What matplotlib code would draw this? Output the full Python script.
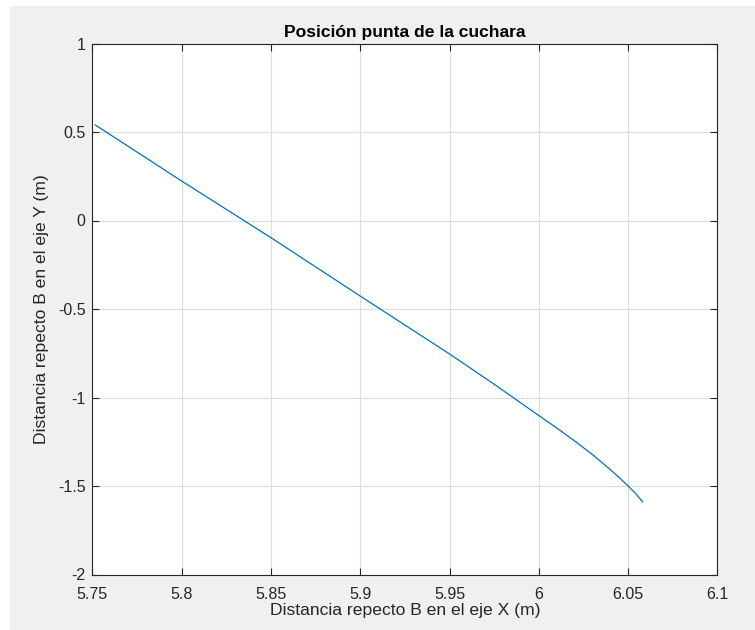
import matplotlib
matplotlib.use("Agg")
import matplotlib.pyplot as plt
from matplotlib.patches import Rectangle

# puntos (posicion de la punta de la cuchara)
pos_x = [5.7516, 5.80, 5.85, 5.90, 5.95, 5.975, 6.00, 6.01, 6.02, 6.03, 6.04,
         6.045, 6.05, 6.054, 6.0581]
pos_y = [0.540, 0.223, -0.097, -0.427, -0.754, -0.925, -1.102, -1.172, -1.245,
         -1.322, -1.407, -1.452, -1.500, -1.540, -1.589]

x_ticks = [5.75, 5.8, 5.85, 5.9, 5.95, 6.0, 6.05, 6.1]
x_tick_labels = ['5.75', '5.8', '5.85', '5.9', '5.95', '6', '6.05', '6.1']
y_ticks = [-2, -1.5, -1, -0.5, 0, 0.5, 1]
y_tick_labels = ['-2', '-1.5', '-1', '-0.5', '0', '0.5', '1']

plt.rcParams['font.family'] = ['Liberation Sans', 'DejaVu Sans']

fig = plt.figure(figsize=(7.55, 6.3), dpi=100)
fig.patch.set_facecolor('white')
# fondo gris tipo ventana de MATLAB
fig.patches.append(Rectangle((10 / 755, 0), 1, 624 / 630, transform=fig.transFigure,
                             facecolor='#f0f0f0', edgecolor='none', zorder=-5))

ax = fig.add_axes([92.4 / 755, 55.5 / 630, 625 / 755, 531 / 630])
ax.set_facecolor('white')
ax.plot(pos_x, pos_y, color='#0072BD', linewidth=0.9)

ax.set_xlim(5.75, 6.1)
ax.set_ylim(-2, 1)
ax.set_xticks(x_ticks)
ax.set_xticklabels(x_tick_labels)
ax.set_yticks(y_ticks)
ax.set_yticklabels(y_tick_labels)

ax.grid(True, color='#dedede', linewidth=0.8)
ax.set_axisbelow(True)
ax.tick_params(direction='in', length=5, width=0.8, color='#262626', labelcolor='#262626',
               labelsize=11.5, top=True, right=True, pad=5)
ax.tick_params(axis='x', pad=9)
for s in ax.spines.values():
    s.set_color('#262626')
    s.set_linewidth(0.8)

ax.set_title('Posición punta de la cuchara', fontsize=12.6, fontweight='bold', pad=5)
ax.set_xlabel('Distancia repecto B en el eje X (m)', fontsize=12.6, color='#262626', labelpad=1)
ax.set_ylabel('Distancia repecto B en el eje Y (m)', fontsize=12.6, color='#262626', labelpad=6)

fig.savefig('out.png', dpi=100)
